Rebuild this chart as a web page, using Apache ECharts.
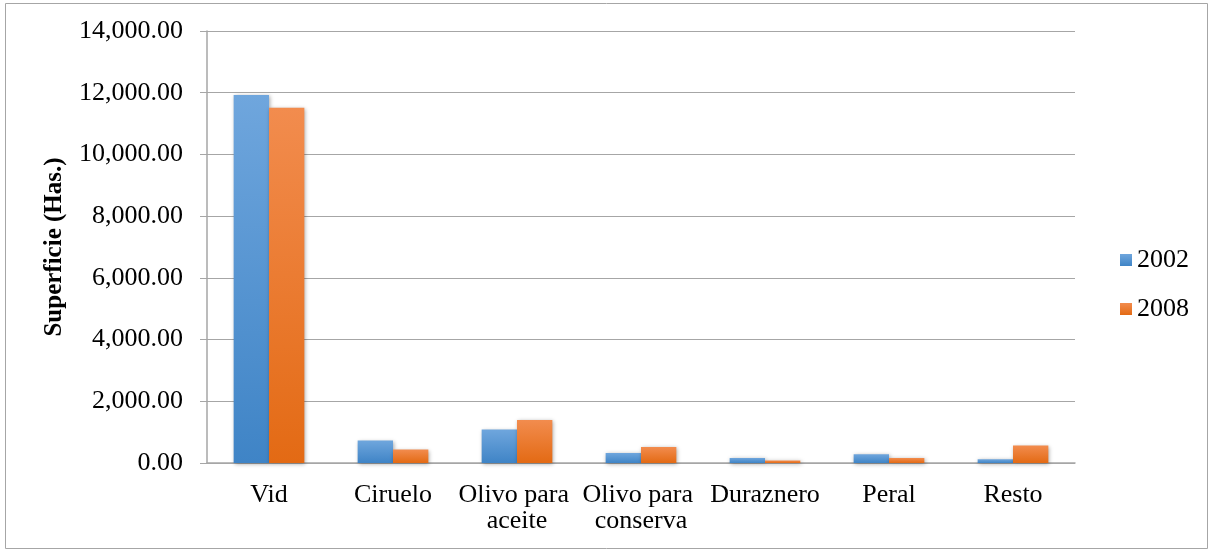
<!DOCTYPE html>
<html><head><meta charset="utf-8">
<script src="https://cdn.jsdelivr.net/npm/echarts@6/dist/echarts.min.js"></script>
<style>html,body{margin:0;padding:0;background:#fff}#c{width:1215px;height:550px}</style>
</head><body><div id="c"></div>
<script>
const categories = ["Vid", "Ciruelo", "Olivo para aceite", "Olivo para conserva", "Duraznero", "Peral", "Resto"];
const values2002 = [11925, 726, 1083, 324, 165, 282, 120];
const values2008 = [11510, 434, 1394, 519, 78, 163, 564];
const seriesNames = ["2002", "2008"];
const yTicks = { min: 0, max: 14000, interval: 2000 };
const yTitle = "Superficie (Has.)";

const font = '"Liberation Serif", "DejaVu Serif", serif';
const chart = echarts.init(document.getElementById('c'), null, { renderer: 'canvas' });
function grad(top, bottom) {
  return new echarts.graphic.LinearGradient(0, 0, 0, 1, [{ offset: 0, color: top }, { offset: 1, color: bottom }]);
}
const barStyle = (t, b) => ({ color: grad(t, b), shadowColor: 'rgba(0,0,0,0.35)', shadowBlur: 4, shadowOffsetX: 1, shadowOffsetY: 1 });
chart.setOption({
  animation: false,
  backgroundColor: '#fff',
  graphic: [{ type: 'rect', shape: { x: 5.5, y: 3.5, width: 1202, height: 545 }, style: { fill: 'none', stroke: '#a6a6a6', lineWidth: 1 }, silent: true }],
  grid: { left: 207, right: 140, top: 31, bottom: 87 },
  legend: {
    orient: 'vertical', left: 1115, top: 242, itemWidth: 12, itemHeight: 12, itemGap: 23,
    icon: 'rect', data: seriesNames,
    textStyle: { fontFamily: font, fontSize: 26, color: '#000' }
  },
  xAxis: {
    type: 'category', data: categories,
    axisLine: { lineStyle: { color: '#a6a6a6', width: 1.5 } },
    axisTick: { show: false },
    axisLabel: { interval: 0, fontFamily: font, fontSize: 26, color: '#000', margin: 19, width: 122, overflow: 'break', lineHeight: 26 }
  },
  yAxis: {
    type: 'value', min: yTicks.min, max: yTicks.max, interval: yTicks.interval,
    name: yTitle, nameLocation: 'middle', nameGap: 140,
    nameTextStyle: { fontFamily: font, fontSize: 25, fontWeight: 'bold', color: '#000' },
    axisLine: { show: true, lineStyle: { color: '#a6a6a6', width: 1.5 } },
    axisTick: { show: true, length: 7, lineStyle: { color: '#a6a6a6' } },
    axisLabel: { fontFamily: font, fontSize: 26, color: '#000', margin: 24,
      formatter: v => v.toLocaleString('en-US', { minimumFractionDigits: 2, maximumFractionDigits: 2 }) },
    splitLine: { lineStyle: { color: '#a6a6a6', width: 1.2 } }
  },
  series: [
    { name: seriesNames[0], type: 'bar', data: values2002, barGap: '0%', barCategoryGap: '43%',
      itemStyle: barStyle('#6fa6dd', '#3f84c6') },
    { name: seriesNames[1], type: 'bar', data: values2008,
      itemStyle: barStyle('#f28c4e', '#e36a14') }
  ]
});
</script></body></html>
